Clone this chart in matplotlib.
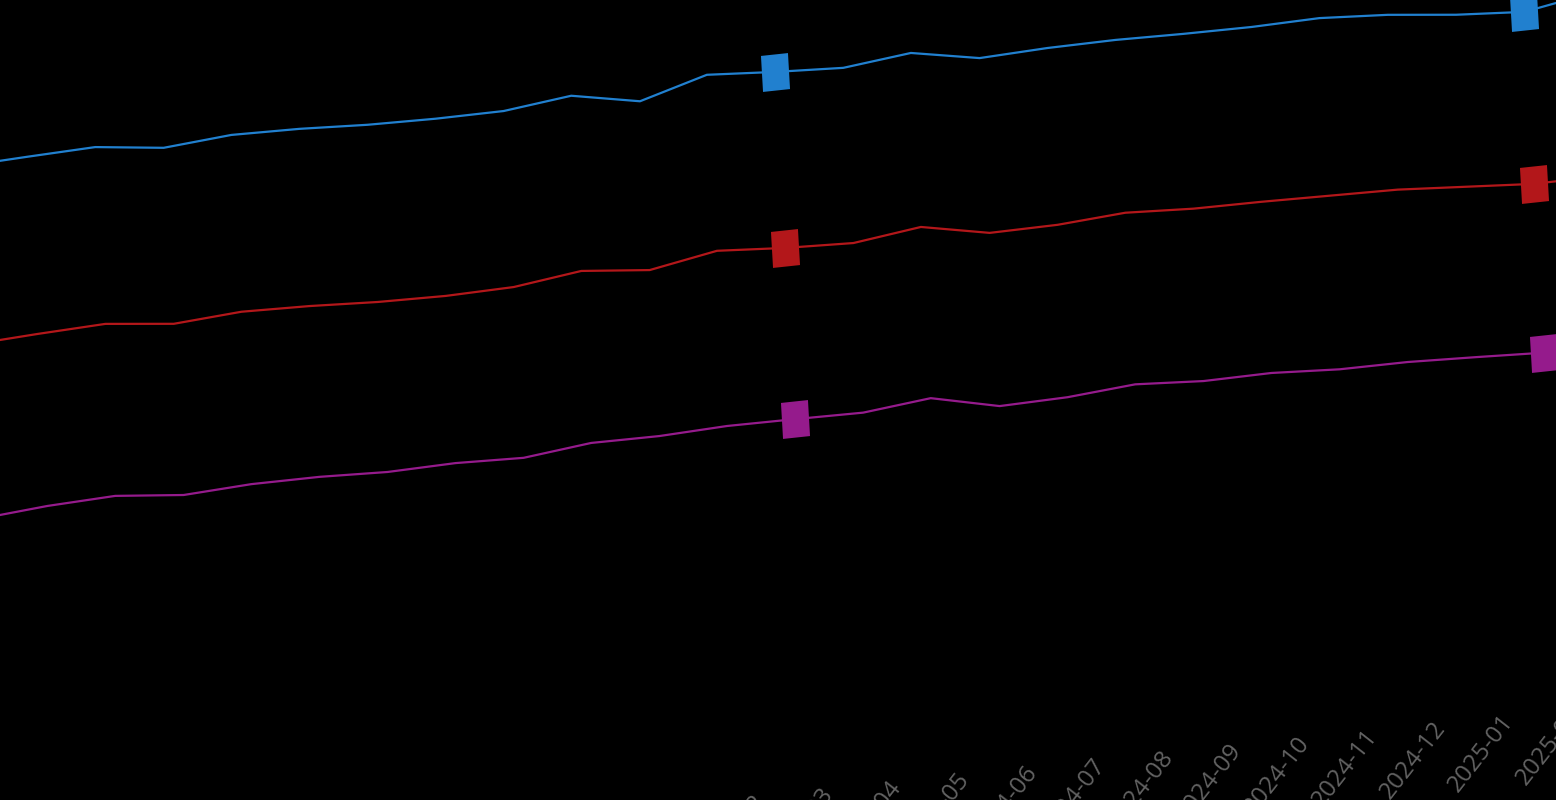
import matplotlib
matplotlib.use('Agg')
import numpy as np
import matplotlib.pyplot as plt
from matplotlib.transforms import Affine2D

# Monthly values, three series (in its own tilted frame)
months = ['2023-03', '2023-04', '2023-05', '2023-06', '2023-07', '2023-08',
          '2023-09', '2023-10', '2023-11', '2023-12', '2024-01', '2024-02',
          '2024-03', '2024-04', '2024-05', '2024-06', '2024-07', '2024-08',
          '2024-09', '2024-10', '2024-11', '2024-12', '2025-01', '2025-02',
          '2025-03']
upper = [158.4, 159.1, 159.7, 157.7, 159.1, 158.8, 158.0, 157.7, 157.8, 159.8,
         156.6, 161.4, 160.3, 159.5, 161.4, 158.3, 159.0, 159.2, 158.9, 158.8,
         159.2, 158.2, 156.4, 155.3, 158.2]
middle = [113.9, 114.8, 115.5, 113.7, 114.9, 114.5, 113.7, 113.4, 113.8, 116.0,
          114.4, 117.4, 116.3, 115.7, 117.9, 114.6, 114.8, 116.0, 115.2, 115.1,
          114.8, 114.5, 113.4, 112.3, 112.5]
lower = [70.4, 71.8, 72.5, 70.9, 71.8, 71.8, 71.2, 71.6, 71.1, 73.0,
         72.9, 73.6, 73.5, 73.3, 75.1, 71.3, 71.7, 73.1, 72.1, 72.3,
         71.4, 71.4, 70.8, 70.1, 70.3]
marked = [12, 23]  # months carrying a marker

colors = ['#2180cf', '#b3171a', '#951b8c']

fig = plt.figure(figsize=(15.56, 8), dpi=100, facecolor='black')
ax = fig.add_axes([0, 0, 1, 1])
ax.set_facecolor('black')
ax.axis('off')
ax.set_xlim(0.06, 22.94)
ax.set_ylim(0, 200)

# the whole chart is seen slightly tilted / sheared
tilt = Affine2D(np.array([[1.0, -0.0575, 0.0],
                          [0.107, 1.0, 0.0],
                          [0.0, 0.0, 1.0]]))
sheared = ax.transData + tilt

# square markers, tilted the same way
box = np.array([[-13.5, -18], [13.5, -18], [13.5, 18], [-13.5, 18], [-13.5, -18]])
box = tilt.transform(box)

x = np.arange(len(months))
for vals, color in zip([upper, middle, lower], colors):
    ax.plot(x, vals, color=color, linewidth=1.6, marker=box, markersize=28,
            markevery=marked, markeredgewidth=0, transform=sheared)

# month labels along the tilted bottom axis
for i, m in enumerate(months):
    ax.text(i + 0.05, -17.5, m, transform=sheared, rotation=52,
            rotation_mode='anchor', ha='right', va='top',
            color='#626262', fontsize=17.5, family='Open Sans')

fig.savefig('out.png', dpi=100, facecolor='black')
